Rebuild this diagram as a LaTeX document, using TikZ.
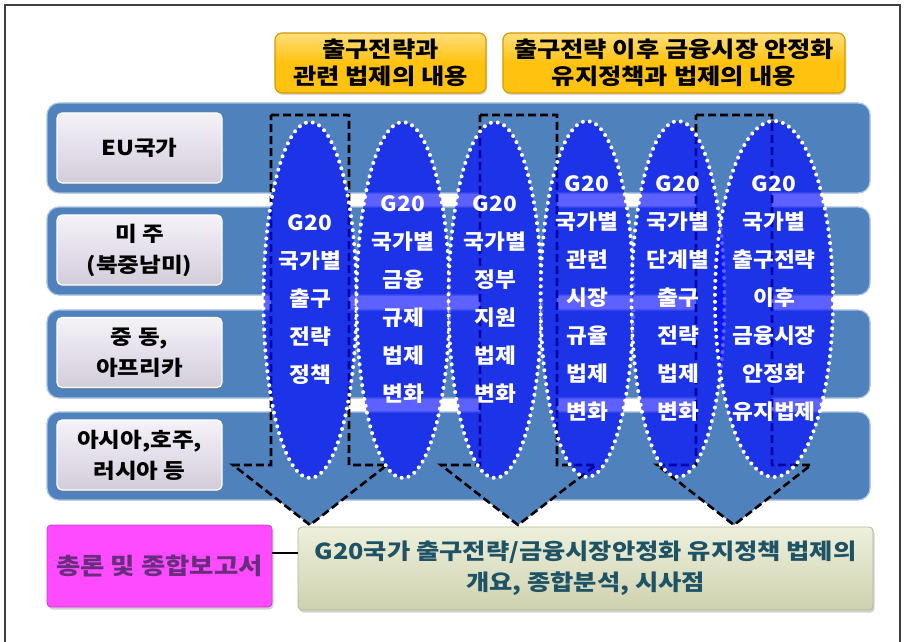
\documentclass[tikz,border=0pt]{standalone}
\usepackage{fontspec}
\setmainfont{Noto Sans CJK KR}
\newfontfamily\krw{Noto Sans CJK KR}[FakeStretch=1.15]
\newfontfamily\krm{Noto Sans CJK KR}[FakeStretch=1.08]
\usetikzlibrary{shapes.geometric,shadows}
\definecolor{bandblue}{HTML}{4F81BD}
\definecolor{bandrim}{HTML}{A9C0E0}
\definecolor{elblue}{HTML}{0008FF}
\definecolor{labfill}{HTML}{E4DFEB}
\definecolor{yel}{HTML}{FFC20E}
\definecolor{yelrim}{HTML}{D99A00}
\definecolor{pinkbox}{HTML}{FF4BFF}
\definecolor{pinktext}{HTML}{6A2C7E}
\definecolor{greenbox}{HTML}{E0E4BE}
\definecolor{greentext}{HTML}{1E5366}
\definecolor{framegray}{HTML}{404040}
\begin{document}
\begin{tikzpicture}[x=1pt,y=-1pt,
  band/.style={draw=bandrim, line width=1.2pt, fill=bandblue, rounded corners=12pt,
    minimum width=823pt, inner sep=0pt},
  labelbox/.style={draw=white, line width=1.2pt, top color=labfill!40!white, bottom color=labfill!92!black,
    middle color=labfill, rounded corners=5pt,
    minimum width=165pt, minimum height=70pt, align=center, inner sep=0pt,
    font=\krw\fontsize{20.5}{31}\selectfont\bfseries,
    drop shadow={shadow xshift=1pt, shadow yshift=-2pt, opacity=0.35}},
  bigarrow/.style={fill=bandblue, draw=black, line width=2.6pt, dash pattern=on 8pt off 4pt},
  oval/.style={ellipse, fill=elblue, fill opacity=0.64, text opacity=1, draw=white,
    draw opacity=1, line width=4pt, dash pattern=on 0pt off 7pt, line cap=round,
    minimum width=93pt, minimum height=356pt, inner sep=0pt, text=white, align=center,
    font=\krm\fontsize{21}{38}\selectfont\bfseries},
  headbox/.style={draw=yelrim, line width=1.2pt, top color=yel!55!white, bottom color=yel,
    middle color=yel, rounded corners=7pt, minimum height=60pt, align=center, inner sep=0pt,
    font=\krw\fontsize{22}{27}\selectfont\bfseries,
    drop shadow={shadow xshift=1pt, shadow yshift=-2pt, opacity=0.3}},
  sumbox/.style={rounded corners=4pt, align=center, inner sep=0pt,
    drop shadow={shadow xshift=1.5pt, shadow yshift=-2.5pt, opacity=0.35}}
]
\useasboundingbox (0,0) rectangle (906,642);
\fill[white] (0,0) rectangle (906,642);
\draw[framegray, line width=1.5pt] (5,642) -- (5,5) -- (900,5) -- (900,642);

% bands
\node[band, minimum height=90pt] (b1) at (458.5,148) {};
\node[band, minimum height=88pt] (b2) at (458.5,251) {};
\node[band, minimum height=88pt] (b3) at (458.5,354) {};
\node[band, minimum height=88pt] (b4) at (458.5,456) {};

% region labels
\node[labelbox] (l1) at (139.5,148) {EU국가};
\node[labelbox] (l2) at (139.5,250) {미 주\\(북중남미)};
\node[labelbox] (l3) at (139.5,352.5) {중 동,\\아프리카};
\node[labelbox] (l4) at (139.5,455) {아시아,호주,\\러시아 등};

% big dashed arrows
\draw[bigarrow] (271,115) -- (349,115) -- (349,465) -- (387,465) -- (310,525)
  -- (233,465) -- (271,465) -- cycle;
\draw[bigarrow] (480,115) -- (557,115) -- (557,465) -- (596,465) -- (518,525)
  -- (441,465) -- (480,465) -- cycle;
\draw[bigarrow] (696,115) -- (772,115) -- (772,465) -- (811,465) -- (734,525)
  -- (657,465) -- (696,465) -- cycle;

% ovals
\node[oval] (e1) at (310,300) {G20\\국가별\\출구\\전략\\정책};
\node[oval] (e2) at (403,300) {G20\\국가별\\금융\\규제\\법제\\변화};
\node[oval] (e3) at (495,300) {G20\\국가별\\정부\\지원\\법제\\변화};
\node[oval] (e4) at (587,299) {G20\\국가별\\관련\\시장\\규율\\법제\\변화};
\node[oval] (e5) at (678,299) {G20\\국가별\\단계별\\출구\\전략\\법제\\변화};
\node[oval] (e6) at (774,299) {G20\\국가별\\출구전략\\이후\\금융시장\\안정화\\유지법제};

% header boxes
\node[headbox, minimum width=211pt] (h1) at (380.5,63) {출구전략과\\관련 법제의 내용};
\node[headbox, minimum width=342pt] (h2) at (674,63) {출구전략 이후 금융시장 안정화\\유지정책과 법제의 내용};

% summary
\node[sumbox, fill=pinkbox, draw=pinkbox!80!black, line width=0.8pt,
  minimum width=225pt, minimum height=82pt, text=pinktext,
  font=\krw\fontsize{23}{28}\selectfont\bfseries] (p) at (159.5,566) {총론 및 종합보고서};
\node[sumbox, top color=greenbox!55!white, bottom color=greenbox!92!black, draw=greenbox!80!black,
  line width=0.8pt, minimum width=575pt, minimum height=83pt, text=greentext,
  font=\krw\fontsize{22}{31}\selectfont\bfseries] (g) at (585.5,568.5)
  {G20국가 출구전략/금융시장안정화 유지정책 법제의\\개요, 종합분석, 시사점};
\coordinate (cl) at (0,553);
\draw[black, line width=2.5pt] (p.east |- cl) -- (g.west |- cl);
\end{tikzpicture}
\end{document}
